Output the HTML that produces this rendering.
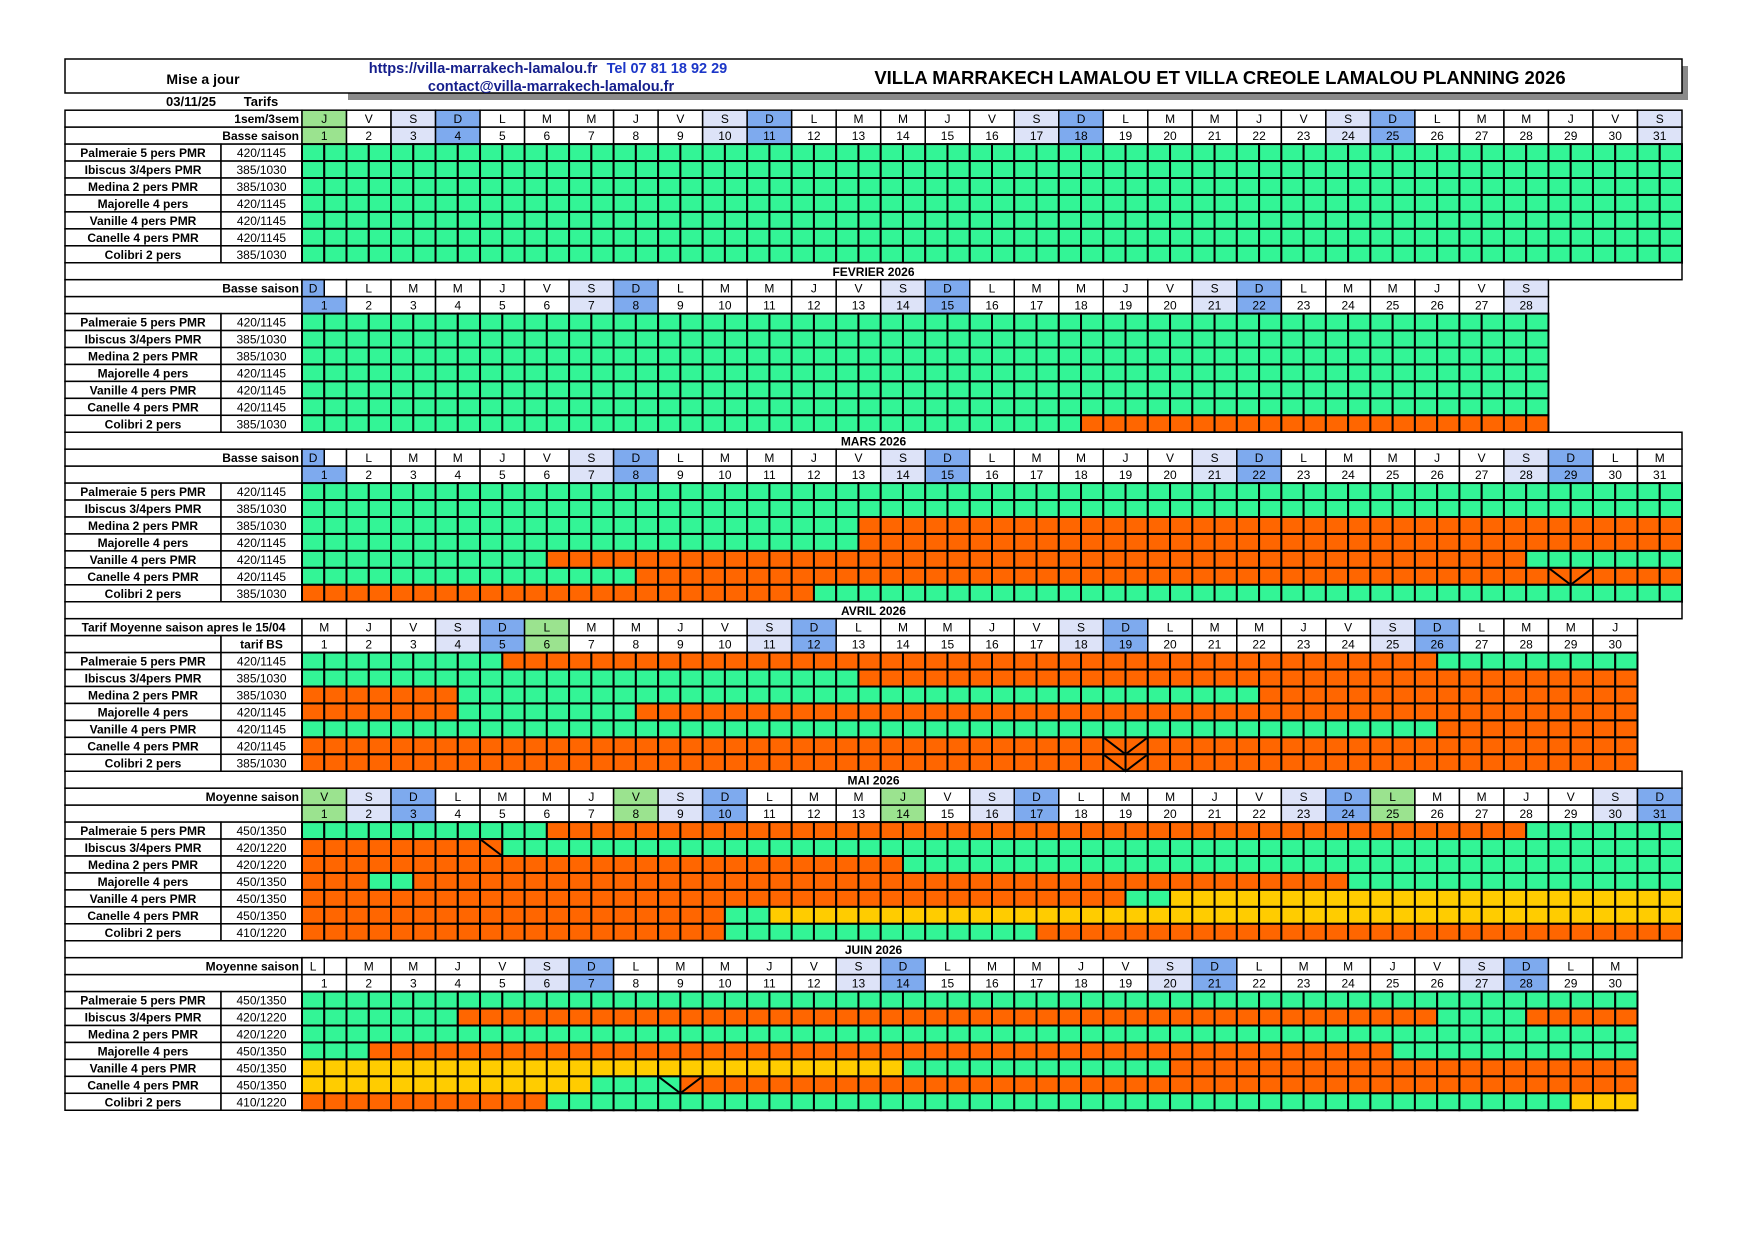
<!DOCTYPE html>
<html><head><meta charset="utf-8"><title>Planning 2026</title>
<style>
html,body{margin:0;padding:0;background:#fff;width:1754px;height:1240px;overflow:hidden}
svg{display:block}
text{font-family:"Liberation Sans",Arial,sans-serif}
</style></head>
<body>
<svg id="sheet" xmlns="http://www.w3.org/2000/svg" width="1754" height="1240" viewBox="0 0 1754 1240">
  <g>
    <rect x="348" y="66" width="1340" height="34" fill="#8a8a8a"/>
    <rect x="65" y="59" width="1617" height="34" fill="#fff" stroke="#000" stroke-width="1.5"/>
    <text x="203" y="84" font-size="14" font-weight="bold" text-anchor="middle">Mise a jour</text>
    <text x="548" y="73" font-size="14.5" font-weight="bold" text-anchor="middle"><tspan fill="#141e8c">https://villa-marrakech-lamalou.fr</tspan><tspan fill="#1c37c8" dx="9">Tel 07 81 18 92 29</tspan></text>
    <text x="551" y="91" font-size="14.5" font-weight="bold" fill="#141e8c" text-anchor="middle">contact@villa-marrakech-lamalou.fr</text>
    <text x="1220" y="84" font-size="18.5" font-weight="bold" text-anchor="middle">VILLA MARRAKECH LAMALOU ET VILLA CREOLE LAMALOU PLANNING 2026</text>
    <text x="191" y="106" font-size="13" font-weight="bold" text-anchor="middle">03/11/25</text>
    <text x="261" y="106" font-size="13" font-weight="bold" text-anchor="middle">Tarifs</text>
  </g>
  <g id="grid"></g>
</svg>
<script>
// ---- data ----
const roomNames = ["Palmeraie 5 pers PMR","Ibiscus 3/4pers PMR","Medina 2 pers PMR","Majorelle 4 pers","Vanille 4 pers PMR","Canelle 4 pers PMR","Colibri 2 pers"];
const tarifsBasse = ["420/1145","385/1030","385/1030","420/1145","420/1145","420/1145","385/1030"];
const tarifsMoyenne = ["450/1350","420/1220","420/1220","450/1350","450/1350","450/1350","410/1220"];
const monthTitles = ["", "FEVRIER 2026", "MARS 2026", "AVRIL 2026", "MAI 2026", "JUIN 2026"];
const monthLetters = [
  "JVSDLMMJVSDLMMJVSDLMMJVSDLMMJVS",
  "DLMMJVSDLMMJVSDLMMJVSDLMMJVS",
  "DLMMJVSDLMMJVSDLMMJVSDLMMJVSDLM",
  "MJVSDLMMJVSDLMMJVSDLMMJVSDLMMJ",
  "VSDLMMJVSDLMMJVSDLMMJVSDLMMJVSD",
  "LMMJVSDLMMJVSDLMMJVSDLMMJVSDLM"
];
const monthHolidays = [[1],[],[],[6],[1,8,14,25],[]];
const headerLabels1 = ["1sem/3sem","Basse saison","Basse saison","Tarif Moyenne saison apres le 15/04","Moyenne saison","Moyenne saison"];
const headerLabels2 = ["Basse saison","","","tarif BS","",""];
const splitFirst = [false,true,true,false,false,true];
// bookings: list of changes [day, half(0=a,1=b), status]
const janBookings = [[[1,0,"g"]],[[1,0,"g"]],[[1,0,"g"]],[[1,0,"g"]],[[1,0,"g"]],[[1,0,"g"]],[[1,0,"g"]]];
const febBookings = [[[1,0,"g"]],[[1,0,"g"]],[[1,0,"g"]],[[1,0,"g"]],[[1,0,"g"]],[[1,0,"g"]],[[1,0,"g"],[18,1,"o"]]];
const marsBookings = [
  [[1,0,"g"]],
  [[1,0,"g"]],
  [[1,0,"g"],[13,1,"o"]],
  [[1,0,"g"],[13,1,"o"]],
  [[1,0,"g"],[6,1,"o"],[28,1,"g"]],
  [[1,0,"g"],[8,1,"o"]],
  [[1,0,"o"],[12,1,"g"]]
];
const avrilBookings = [
  [[1,0,"g"],[5,1,"o"],[26,1,"g"]],
  [[1,0,"g"],[13,1,"o"]],
  [[1,0,"o"],[4,1,"g"],[22,1,"o"]],
  [[1,0,"o"],[4,1,"g"],[8,1,"o"]],
  [[1,0,"g"],[26,1,"o"]],
  [[1,0,"o"]],
  [[1,0,"o"]]
];
const maiBookings = [
  [[1,0,"g"],[6,1,"o"],[28,1,"g"]],
  [[1,0,"o"],[5,1,"g"]],
  [[1,0,"o"],[14,1,"g"]],
  [[1,0,"o"],[2,1,"g"],[3,1,"o"],[24,1,"g"]],
  [[1,0,"o"],[19,1,"g"],[20,1,"y"]],
  [[1,0,"o"],[10,1,"g"],[11,1,"y"]],
  [[1,0,"o"],[10,1,"g"],[17,1,"o"]]
];
const juinBookings = [
  [[1,0,"g"]],
  [[1,0,"g"],[4,1,"o"],[26,1,"g"],[28,1,"o"]],
  [[1,0,"g"]],
  [[1,0,"g"],[2,1,"o"],[25,1,"g"]],
  [[1,0,"y"],[14,1,"g"],[20,1,"o"]],
  [[1,0,"y"],[7,1,"g"],[9,1,"o"]],
  [[1,0,"o"],[6,1,"g"],[29,1,"y"]]
];
const allBookings = [janBookings,febBookings,marsBookings,avrilBookings,maiBookings,juinBookings];
// change-over marks [month, row, day]
const vMarks = [[2,5,29],[3,5,19],[3,6,19],[5,5,9]];
const diagMarks = [[4,1,5]];

// ---- layout ----
const NS="http://www.w3.org/2000/svg";
const LX=65, TX=221, X0=302, XR=1682, DW=(XR-X0)/31, Y0=110.2, RH=16.95;
const colors={g:"#33f596",o:"#ff6600",y:"#ffcc00"};
const grid=document.getElementById("grid");
function xDay(d){return X0+(d-1)*DW;}
function yRow(r){return Y0+r*RH;}
function el(tag,attrs,parent){const e=document.createElementNS(NS,tag);for(const k in attrs)e.setAttribute(k,attrs[k]);(parent||grid).appendChild(e);return e;}
function txt(x,y,s,size,bold,anchor,parent){const t=el("text",{x:x,y:y,"font-size":size,"font-weight":bold?"bold":"normal","text-anchor":anchor||"middle"},parent);t.textContent=s;return t;}
function statusAt(changes,d,h){let s="g";const idx=(d-1)*2+h;for(const c of changes){if((c[0]-1)*2+c[1]<=idx)s=c[2];}return s;}

for(let m=0;m<6;m++){
  const start=m*10;
  const letters=monthLetters[m];
  const days=letters.length;
  const g=el("g",{});
  
  
  if(m>0){
    const yt=yRow(start-1);
    const r=el("rect",{x:LX,y:yt,width:XR-LX,height:RH,fill:"#fff",stroke:"#000","stroke-width":1.5},g);
    
    
    const t=txt((LX+XR)/2,yt+13,monthTitles[m],12,true,"middle",g);
    
    
  }
  const yL=yRow(start), yN=yRow(start+1);
  el("rect",{x:LX,y:yL,width:X0-LX,height:RH,fill:"#fff",stroke:"#000","stroke-width":1.5},g);
  if(headerLabels2[m]==="tarif BS"){
    el("rect",{x:LX,y:yN,width:TX-LX,height:RH,fill:"#fff",stroke:"#000","stroke-width":1.5},g);
    el("rect",{x:TX,y:yN,width:X0-TX,height:RH,fill:"#fff",stroke:"#000","stroke-width":1.5},g);
  } else {
    el("rect",{x:LX,y:yN,width:X0-LX,height:RH,fill:"#fff",stroke:"#000","stroke-width":1.5},g);
  }
  const hl1=headerLabels1[m];
  const h1=txt(hl1.length>20?(LX+X0)/2:X0-3,yL+13,hl1,12,true,hl1.length>20?"middle":"end",g);
  
  
  if(headerLabels2[m]){
    const h2=txt(headerLabels2[m]==="tarif BS"?(TX+X0)/2:X0-3,yN+13,headerLabels2[m],12,true,headerLabels2[m]==="tarif BS"?"middle":"end",g);
    
    
  }
  for(let d=1;d<=days;d++){
    const L=letters[d-1];
    let fill="#fff";
    if(L==="S")fill="#dde3f8";
    if(L==="D")fill="#7eaaee";
    if(monthHolidays[m].includes(d))fill="#9be38f";
    const x=xDay(d);
    if(splitFirst[m]&&d===1){
      el("rect",{x:x,y:yL,width:DW,height:RH,fill:"#fff",stroke:"#000","stroke-width":1.5},g);
      el("rect",{x:x,y:yL,width:DW/2,height:RH,fill:fill,stroke:"#000","stroke-width":1.5},g);
      const lt=txt(x+DW/4,yL+13,L,12,false,"middle",g);
      
      
    } else {
      el("rect",{x:x,y:yL,width:DW,height:RH,fill:fill,stroke:"#000","stroke-width":1.5},g);
      const lt=txt(x+DW/2,yL+13,L,12,false,"middle",g);
      
      
    }
    el("rect",{x:x,y:yN,width:DW,height:RH,fill:fill,stroke:"#000","stroke-width":1.5},g);
    const nt=txt(x+DW/2,yN+13,String(d),12,false,"middle",g);
    
    
  }
  const tarifs=m>=4?tarifsMoyenne:tarifsBasse;
  for(let r=0;r<7;r++){
    const y=yRow(start+2+r);
    el("rect",{x:LX,y:y,width:TX-LX,height:RH,fill:"#fff",stroke:"#000","stroke-width":1.5},g);
    el("rect",{x:TX,y:y,width:X0-TX,height:RH,fill:"#fff",stroke:"#000","stroke-width":1.5},g);
    const rn=txt((LX+TX)/2,y+13,roomNames[r],12,true,"middle",g);
    
    
    const tr=txt((TX+X0)/2,y+13,tarifs[r],12,false,"middle",g);
    
    
    const changes=allBookings[m][r];
    for(let d=1;d<=days;d++){
      for(let h=0;h<2;h++){
        const s=statusAt(changes,d,h);
        const c=el("rect",{x:xDay(d)+h*DW/2,y:y,width:DW/2,height:RH,fill:colors[s],stroke:"#000","stroke-width":2},g);
        
        
      }
    }
  }
}
for(const v of vMarks){
  const y=yRow(v[0]*10+2+v[1]);const x=xDay(v[2]);
  const p=el("polyline",{points:`${x},${y} ${x+DW/2},${y+RH} ${x+DW},${y}`,fill:"none",stroke:"#000","stroke-width":2});
  
  
}
for(const v of diagMarks){
  const y=yRow(v[0]*10+2+v[1]);const x=xDay(v[2]);
  const p=el("line",{x1:x,y1:y,x2:x+DW/2,y2:y+RH,stroke:"#000","stroke-width":2});
  
  
}
</script>
</body></html>
